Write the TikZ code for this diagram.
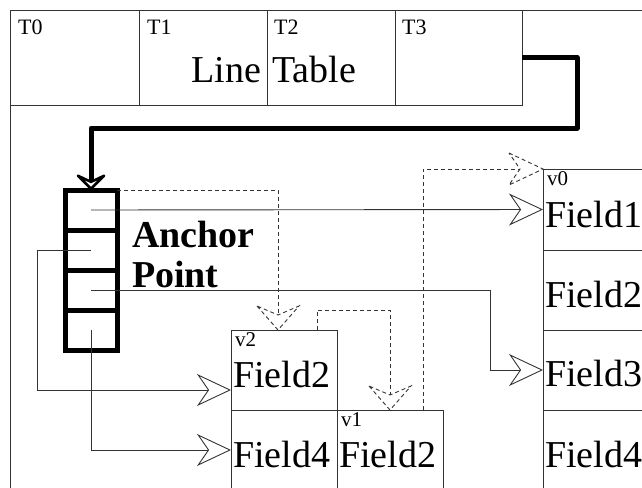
\documentclass[tikz,border=0pt]{standalone}
\usepackage{fontspec}
\setmainfont{Liberation Serif}
\usetikzlibrary{arrows.meta}
\begin{document}
\begin{tikzpicture}[x=1pt,y=-1pt,
  thinline/.style={line width=0.9pt, draw=black!80},
  cell/.style={thinline, rectangle, inner sep=0pt, outer sep=0pt, anchor=north west},
  tcell/.style={cell, minimum height=95pt},
  acell/.style={cell, draw=black, line width=5pt, minimum width=52pt, minimum height=40pt},
  fcell/.style={cell, minimum height=80pt},
  big/.style={font=\fontsize{38}{40}\selectfont, inner sep=0pt, outer sep=0pt, anchor=base west},
  bigbold/.style={big, font=\fontsize{38}{40}\selectfont\bfseries},
  tlab/.style={font=\fontsize{22}{24}\selectfont, inner sep=0pt, anchor=base west},
  vlab/.style={font=\fontsize{21}{23}\selectfont, inner sep=0pt, anchor=base west},
  conn/.style={thinline, -{Stealth[open, length=34pt, width=32pt, inset=11pt]}},
  dconn/.style={thinline, dash pattern=on 4pt off 3pt},
  route/.style={line width=5pt, draw=black, line join=round,
    -{Stealth[open, round, length=19pt, width=38pt, inset=9pt]}},
  dtipdown/.pic={\draw[dconn] (-21,-24) -- (0,0) -- (21,-24) -- (0,-15) -- cycle;},
  dtipright/.pic={\draw[dconn] (-34,-16) -- (0,0) -- (-34,16) -- (-23,0) -- cycle;}
]
\useasboundingbox (0,0) rectangle (642,487);
\clip (0,0) rectangle (642,487);

% outer frame
\draw[thinline] (10,520) -- (10,10) -- (700,10);

% line table
\node[tcell, minimum width=129pt] (t0) at (10,10) {};
\node[tcell, minimum width=128pt] (t1) at (139,10) {};
\node[tcell, minimum width=128pt] (t2) at (267,10) {};
\node[tcell, minimum width=127pt] (t3) at (395,10) {};
\node[tlab] (lt0) at (18,35) {T0};
\node[tlab] (lt1) at (147,35) {T1};
\node[tlab] (lt2) at (274,35) {T2};
\node[tlab] (lt3) at (402,35) {T3};
\node[big, anchor=base east] (lline) at (261,82) {Line};
\node[big] (ltable) at (272,82) {Table};

% anchor point stack
\node[acell] (a1) at (65,190) {};
\node[acell] (a2) at (65,230) {};
\node[acell] (a3) at (65,270) {};
\node[acell] (a4) at (65,310) {};
\node[bigbold] (anc) at (132,247) {Anchor};
\node[bigbold] (pnt) at (132,287) {Point};

% v0
\node[fcell, minimum width=140pt, minimum height=81pt] (f1) at (543,169) {};
\node[fcell, minimum width=140pt] (f2) at (543,250) {};
\node[fcell, minimum width=140pt] (f3) at (543,330) {};
\node[fcell, minimum width=140pt] (f4) at (543,410) {};
\node[vlab] (lv0) at (547,185) {v0};
\node[big] (tf1) at (545,227) {Field1};
\node[big] (tf2) at (545,307) {Field2};
\node[big] (tf3) at (545,386) {Field3};
\node[big] (tf4) at (545,467) {Field4};

% v2
\node[fcell, minimum width=106pt] (w2) at (231,330) {};
\node[fcell, minimum width=106pt] (w4) at (231,410) {};
\node[vlab] (lv2) at (235,346) {v2};
\node[big] (tw2) at (233,387) {Field2};
\node[big] (tw4) at (233,467) {Field4};

% v1
\node[fcell, minimum width=106pt] (v1) at (337,410) {};
\node[vlab] (lv1) at (341,426) {v1};
\node[big] (tv1) at (339,467) {Field2};

% thick route from line table to anchor point
\coordinate (r1) at (577,128);
\draw[route] (t3.east) -| (r1) -| (a1.north);

% solid connectors
\draw[conn] (a1.center) -- (f1.west);
\coordinate (k1) at (37,250);
\coordinate (k2) at (37,390);
\draw[conn] (a2.center) -- (k1) -- (k2) -- (k2 -| w2.west);
\coordinate (k3) at (490,370);
\draw[conn] (a3.center) -| (k3) -- (f3.west);
\draw[conn] (a4.center) |- (w4.west);

% dashed connectors
\draw[dconn, shorten >=15pt] (a1.north east) -| ([xshift=-6pt]w2.north);
\pic at ([xshift=-6pt]w2.north) {dtipdown};
\coordinate (e1) at (317,310);
\draw[dconn, shorten >=15pt] (e1 |- w2.north) -- (e1) -| (v1.north);
\pic at (v1.north) {dtipdown};
\coordinate (e2) at (423,410);
\draw[dconn, shorten >=23pt] (e2) |- (f1.north west);
\pic at (f1.north west) {dtipright};
\end{tikzpicture}
\end{document}
